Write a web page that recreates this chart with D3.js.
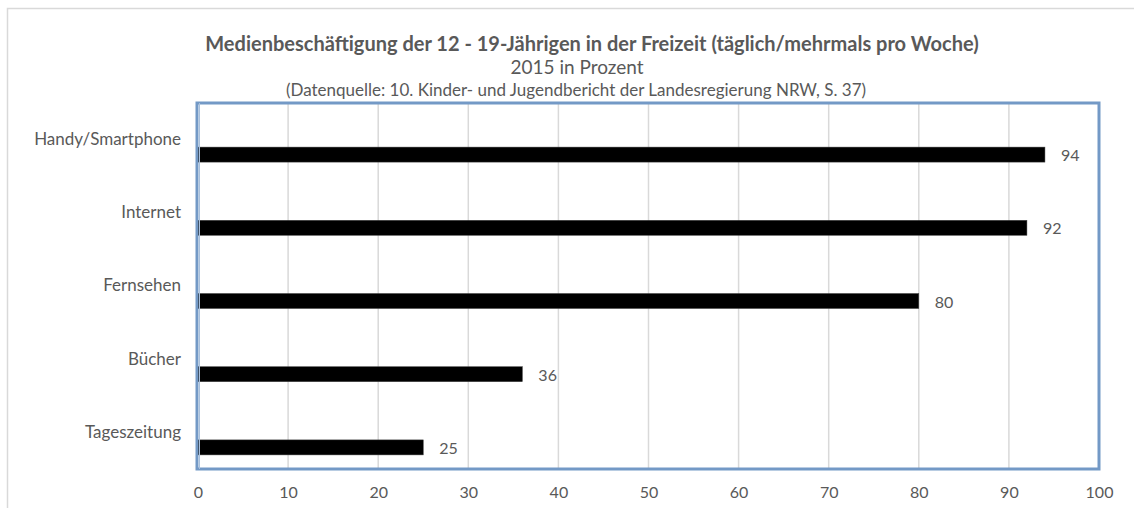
<!DOCTYPE html>
<html>
<head>
<meta charset="utf-8">
<script src="https://cdn.jsdelivr.net/npm/d3@7"></script>
<style>
body{margin:0;background:#fff;}
text{font-family:Lato,"Open Sans",sans-serif;fill:#595959;}
</style>
</head>
<body>
<div id="canvas"></div>
<script>
var categories = ["Handy/Smartphone","Internet","Fernsehen","Bücher","Tageszeitung"];
var values = [94,92,80,36,25];
var xTicks = [0,10,20,30,40,50,60,70,80,90,100];
var titleText = "Medienbeschäftigung der 12 - 19-Jährigen in der Freizeit (täglich/mehrmals pro Woche)";
var subTitle = "2015 in Prozent";
var sourceText = "(Datenquelle: 10. Kinder- und Jugendbericht der Landesregierung NRW, S. 37)";

var width = 1134, height = 508;
var plotL = 198, plotR = 1099, plotT = 103, plotB = 469;

var svg = d3.select("#canvas").append("svg")
	.attr("width",width).attr("height",height);

// outer chart border (only top/left visible)
svg.append("rect")
	.attr("x",7.5).attr("y",8.5)
	.attr("width",1200).attr("height",600)
	.attr("fill","none").attr("stroke","#d9d9d9").attr("stroke-width",1.5);

var x = d3.scaleLinear().domain([0,100]).range([plotL,plotR]);
var y = d3.scaleBand().domain(categories).range([plotT,plotB]);
var barH = 15;

// gridlines
svg.append("g").selectAll("line").data(xTicks.slice(1,-1)).enter().append("line")
	.attr("x1",d=>x(d)).attr("x2",d=>x(d))
	.attr("y1",plotT).attr("y2",plotB)
	.attr("stroke","#d9d9d9").attr("stroke-width",1.5);

// bars (sit in the lower slot of each category)
svg.append("g").selectAll("rect").data(values).enter().append("rect")
	.attr("x",x(0))
	.attr("y",(d,i)=>y(categories[i])+y.bandwidth()/2+barH/2)
	.attr("width",d=>x(d)-x(0))
	.attr("height",barH)
	.attr("fill","#000").attr("stroke","#404040").attr("stroke-width",0.5);

// value labels
svg.append("g").selectAll("text").data(values).enter().append("text")
	.attr("x",d=>x(d)+16)
	.attr("y",(d,i)=>y(categories[i])+y.bandwidth()/2+barH+1)
	.attr("dy","0.35em")
	.style("font-size","16px")
	.text(d=>d);

// plot frame
svg.append("rect")
	.attr("x",plotL-1).attr("y",plotT)
	.attr("width",plotR-plotL+1).attr("height",plotB-plotT)
	.attr("fill","none").attr("stroke","#7399c6").attr("stroke-width",3);
svg.append("line")
	.attr("x1",plotL+1.5).attr("x2",plotL+1.5).attr("y1",plotT).attr("y2",plotB)
	.attr("stroke","#a9c0dc").attr("stroke-width",1);

// category labels
var yAxis = d3.axisLeft(y).tickSize(0).tickPadding(17);
var gy = svg.append("g").attr("transform","translate("+plotL+",0)").call(yAxis);
gy.select(".domain").remove();
gy.selectAll("text").style("font-size","17px").attr("fill","#595959").attr("font-family",null);

// x axis labels
var xAxis = d3.axisBottom(x).tickValues(xTicks).tickSize(0).tickPadding(18);
var gx = svg.append("g").attr("transform","translate(0,"+plotB+")").call(xAxis);
gx.select(".domain").remove();
gx.selectAll("text").style("font-size","16px").attr("fill","#595959").attr("font-family",null);

// titles
svg.append("text").attr("x",592).attr("y",51).attr("text-anchor","middle")
	.style("font-size","20px").style("font-weight","bold").text(titleText);
svg.append("text").attr("x",577).attr("y",74).attr("text-anchor","middle")
	.style("font-size","19px").text(subTitle);
svg.append("text").attr("x",576).attr("y",96).attr("text-anchor","middle")
	.style("font-size","17px").text(sourceText);
</script>
</body>
</html>
